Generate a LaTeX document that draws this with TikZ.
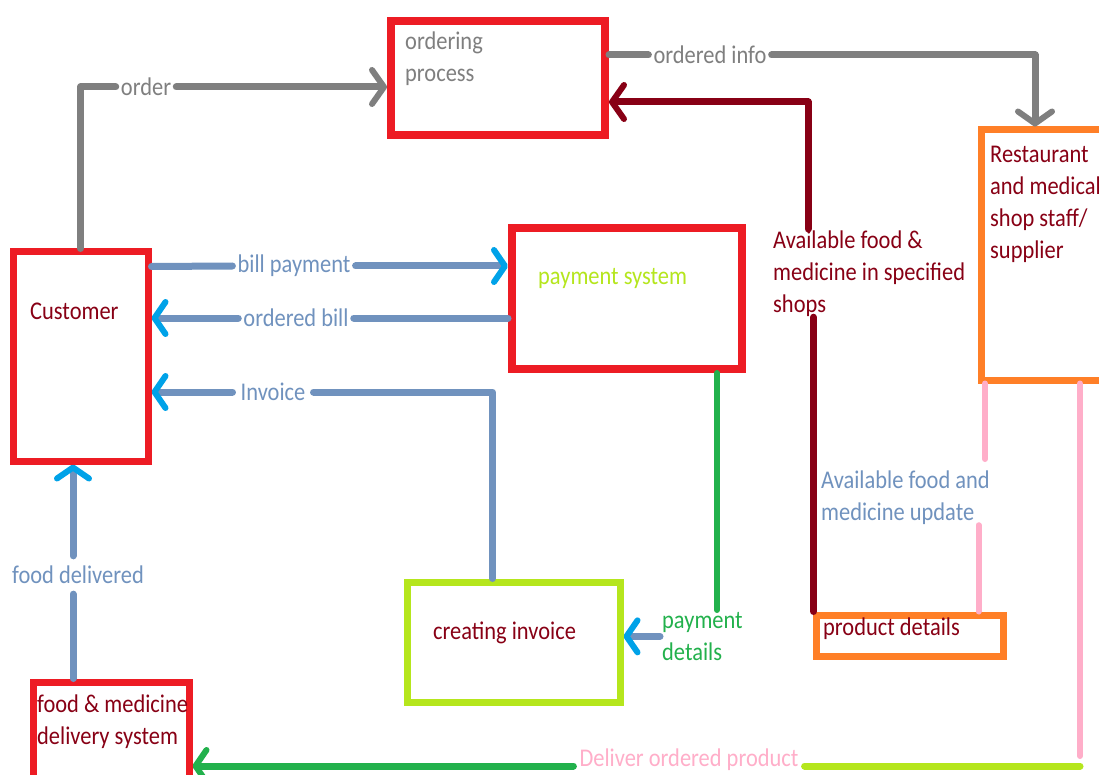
\documentclass[tikz,border=0pt]{standalone}
\usepackage{fontspec}
\setmainfont{Carlito}[FakeStretch=0.88]
\usetikzlibrary{arrows.meta}
\definecolor{cred}{HTML}{ED1C24}
\definecolor{cgray}{HTML}{7F7F7F}
\definecolor{cdark}{HTML}{880015}
\definecolor{csteel}{HTML}{7092BE}
\definecolor{ccyan}{HTML}{00A2E8}
\definecolor{cgreen}{HTML}{22B14C}
\definecolor{cyg}{HTML}{B5E61D}
\definecolor{corange}{HTML}{FF7F27}
\definecolor{cpink}{HTML}{FFAEC9}
\newcommand\dfont{\fontsize{25.5}{32}\selectfont}
\begin{document}
\begin{tikzpicture}[x=1pt,y=-1pt,
  boxr/.style={draw=cred, line width=8pt, inner sep=0pt, rectangle},
  boxo/.style={draw=corange, line width=7pt, inner sep=0pt, rectangle},
  boxy/.style={draw=cyg, line width=7pt, inner sep=0pt, rectangle},
  txt/.style={anchor=north west, inner sep=0pt, align=left, font=\dfont},
  lbl/.style={inner xsep=5pt, inner ysep=2pt, font=\dfont},
  conn/.style={line width=7pt, line cap=round, line join=round},
  gline/.style={conn, draw=cgray},
  dline/.style={conn, draw=cdark},
  bline/.style={conn, draw=csteel},
  grline/.style={conn, line width=6pt, draw=cgreen},
  pline/.style={conn, line width=6pt, draw=cpink},
  yline/.style={conn, draw=cyg},
  tipself/.style={-{Straight Barb[length=12pt,width=34pt,line width=6pt,round]}},
  tipcyan/.style={-{Straight Barb[length=11pt,width=32pt,line width=6pt,round,color=ccyan]}}
]
\useasboundingbox (0,0) rectangle (1099,775);
\clip (0,0) rectangle (1099,775);
\fill[white] (0,0) rectangle (1099,775);

% boxes
\node[boxr, minimum width=214pt, minimum height=114pt] (op) at (498,78) {};
\node[boxr, line width=7pt, minimum width=135pt, minimum height=209pt] (cust) at (80.5,356.5) {};
\node[boxr, minimum width=230pt, minimum height=141pt] (pay) at (627,298.5) {};
\node[boxo, minimum width=130pt, minimum height=250pt] (rest) at (1046,255) {};
\node[boxy, minimum width=213pt, minimum height=120pt] (ci) at (513.5,642) {};
\node[boxo, minimum width=187pt, minimum height=41pt] (pd) at (909.5,635.5) {};
\node[boxr, line width=7pt, minimum width=156pt, minimum height=112pt] (del) at (111,738) {};

% box texts
\node[txt, text=cgray] (optxt) at (405,32) {ordering\\process};
\node[txt, text=cdark] (custtxt) at (30,303) {Customer};
\node[txt, text=cyg] (paytxt) at (538,268) {payment system};
\node[txt, text=cdark] (resttxt) at (990,146) {Restaurant\\and medical\\shop staff/\\supplier};
\node[txt, text=cdark] (citxt) at (433,622) {creating invoice};
\node[txt, text=cdark] (pdtxt) at (823,618) {product details};
\node[txt, text=cdark] (deltxt) at (37,695) {food \& medicine\\delivery system};

% connector labels
\node[lbl, text=cgray] (lorder) at (146,87) {order};
\node[lbl, text=cgray] (linfo) at (710,55) {ordered info};
\node[lbl, text=csteel] (lbill) at (294,266) {bill payment};
\node[lbl, text=csteel] (lobill) at (296,318) {ordered bill};
\node[lbl, text=csteel, inner xsep=8pt] (linv) at (273,392) {Invoice};
\node[lbl, text=csteel, inner ysep=10pt] (lfood) at (78,575) {food delivered};
\node[txt, text=cdark] (lavail) at (773,231) {Available food \&\\medicine in specified\\shops};
\node[txt, text=cgreen] (lpay) at (662,612) {payment\\details};
\node[txt, text=csteel] (lupd) at (821,471) {Available food and\\medicine update};
\node[lbl, text=cpink, inner xsep=6pt, inner ysep=0pt] (ldeliv) at (689,760) {Deliver ordered product};

% order
\draw[gline] (cust.north) |- (lorder.west);
\draw[gline, tipself] (lorder.east) -- (op.west |- lorder.east);
% ordered info
\draw[gline] (op.east |- linfo.west) -- (linfo.west);
\draw[gline, tipself] (linfo.east) -| ([xshift=-11pt]rest.north);
% available food & medicine in specified shops
\draw[dline] ([xshift=1pt]pd.north west) -- ([xshift=1pt]pd.north west |- lavail.south);
\draw[dline, tipself] ([xshift=35pt,yshift=2pt]lavail.north west) |- ([yshift=-24pt]op.east);
% bill payment
\draw[bline] ([yshift=90pt]cust.east) -- (lbill.west);
\draw[bline, tipcyan] (lbill.east) -- (pay.west |- lbill.east);
% ordered bill
\draw[bline] (pay.west |- lobill.east) -- (lobill.east);
\draw[bline, tipcyan] (lobill.west) -- (cust.east |- lobill.west);
% invoice
\draw[bline] ([xshift=-21pt]ci.north) |- (linv.east);
\draw[bline, tipcyan] (linv.west) -- (cust.east |- linv.west);
% food delivered
\draw[bline] ([xshift=-38pt]del.north) -- ([xshift=-38pt]del.north |- lfood.south);
\draw[bline, tipcyan] ([xshift=-38pt]del.north |- lfood.north) -- ([xshift=-38pt]del.north |- cust.south);
% payment details
\draw[grline] ([xshift=90pt]pay.south) -- ([xshift=90pt,yshift=2pt]pay.south |- lpay.north);
\draw[bline, tipcyan] ([xshift=-2pt]lpay.west) -- (ci.east |- lpay.west);
% available food and medicine update
\draw[pline] ([xshift=-61pt]rest.south) -- ([xshift=-61pt,yshift=12pt]rest.south |- lupd.north);
\draw[pline] ([xshift=69pt]pd.north) -- ([xshift=69pt]pd.north |- lupd.south);
% deliver ordered product
\coordinate (dc) at (1080,766);
\draw[pline] (rest.south -| dc) -- ([yshift=10pt]dc);
\draw[yline] (dc) -- (ldeliv.east |- dc);
\draw[grline, line width=7pt, -{Straight Barb[length=11pt,width=32pt,line width=6pt,round]}] (ldeliv.west |- dc) -- (del.east |- dc);
\end{tikzpicture}
\end{document}
